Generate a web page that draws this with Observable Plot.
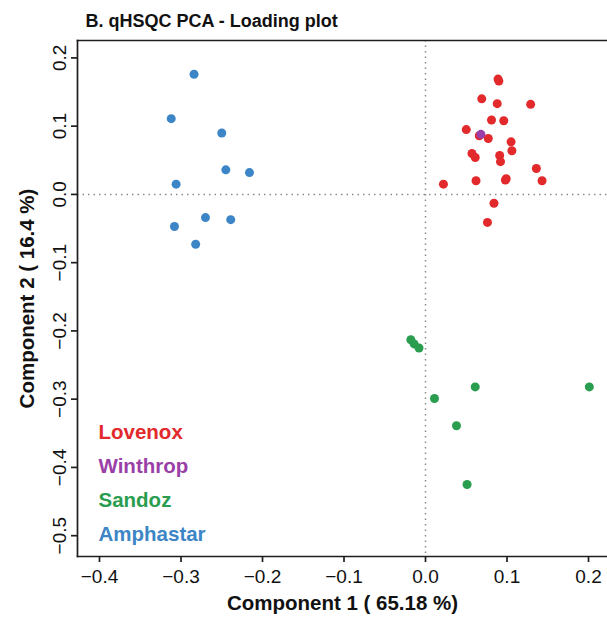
<!DOCTYPE html>
<html>
<head>
<meta charset="utf-8">
<script src="https://cdn.jsdelivr.net/npm/d3@7"></script>
<script src="https://cdn.jsdelivr.net/npm/@observablehq/plot@0.6"></script>
<style>
  html, body { margin: 0; padding: 0; background: #fff; }
  #chart svg { display: block; }
</style>
</head>
<body>
<div id="chart"></div>
<script>
// ---- data ----
const groups = ["Lovenox", "Winthrop", "Sandoz", "Amphastar"];
const groupColors = ["#E2292C", "#9B3FA8", "#2A9D4F", "#3C85C6"];

const lovenoxX = [0.089, 0.090, 0.069, 0.088, 0.129, 0.081, 0.096, 0.050, 0.066, 0.077, 0.105, 0.106, 0.057, 0.061, 0.091, 0.092, 0.136, 0.099, 0.098, 0.143, 0.062, 0.022, 0.084, 0.076];
const lovenoxY = [0.169, 0.166, 0.140, 0.133, 0.132, 0.109, 0.108, 0.095, 0.086, 0.082, 0.077, 0.064, 0.060, 0.054, 0.057, 0.048, 0.038, 0.023, 0.021, 0.020, 0.020, 0.015, -0.013, -0.041];

const winthropX = [0.068];
const winthropY = [0.088];

const sandozX = [-0.018, -0.014, -0.008, 0.061, 0.201, 0.011, 0.038, 0.051];
const sandozY = [-0.213, -0.219, -0.225, -0.282, -0.282, -0.299, -0.339, -0.425];

const amphastarX = [-0.284, -0.312, -0.250, -0.245, -0.216, -0.306, -0.270, -0.239, -0.308, -0.282];
const amphastarY = [0.176, 0.111, 0.090, 0.036, 0.032, 0.015, -0.034, -0.037, -0.047, -0.073];

const xTicks = [-0.4, -0.3, -0.2, -0.1, 0.0, 0.1, 0.2];
const yTicks = [-0.5, -0.4, -0.3, -0.2, -0.1, 0.0, 0.1, 0.2];

const titleText = "B. qHSQC PCA - Loading plot";
const xLabel = "Component 1 ( 65.18 %)";
const yLabel = "Component 2 ( 16.4 %)";

// ---- table for the library ----
const rows = [];
function addGroup(name, xs, ys) {
  xs.forEach((x, i) => rows.push({ group: name, x, y: ys[i] }));
}
addGroup("Amphastar", amphastarX, amphastarY);
addGroup("Sandoz", sandozX, sandozY);
addGroup("Lovenox", lovenoxX, lovenoxY);
addGroup("Winthrop", winthropX, winthropY);

const fmt = d3.format(".1f");
const font = "'Liberation Sans', Arial, Helvetica, sans-serif";
const frameStroke = "#1e1e1e";
const legendBaselines = [-118, -84, -50, -16];

const marks = [
  Plot.ruleX([0], { stroke: "#8c8c8c", strokeWidth: 1.5, strokeDasharray: "1.5,4" }),
  Plot.ruleY([0], { stroke: "#8c8c8c", strokeWidth: 1.5, strokeDasharray: "1.5,4" }),
  Plot.dot(rows, { x: "x", y: "y", fill: "group", r: 4.5 }),
  Plot.frame({ anchor: "top", stroke: frameStroke, strokeWidth: 1.7 }),
  Plot.frame({ anchor: "left", stroke: frameStroke, strokeWidth: 1.7 }),
  Plot.frame({ anchor: "bottom", stroke: frameStroke, strokeWidth: 1.7 }),
  Plot.axisX({ ticks: xTicks, tickSize: 6, tickPadding: 7, tickFormat: fmt, fontSize: 19, label: null, stroke: frameStroke, strokeWidth: 1.7, fill: "#111" }),
  Plot.axisY({ ticks: yTicks, tickSize: 6, tickFormat: () => "", label: null, stroke: frameStroke, strokeWidth: 1.7 }),
  Plot.text(yTicks, { y: d => d, text: d => fmt(d), frameAnchor: "left", dx: -18, rotate: -90, textAnchor: "middle", lineAnchor: "middle", fontSize: 19, fill: "#111" }),
  Plot.text([titleText], { text: d => d, frameAnchor: "top-left", dx: 8, dy: -14, textAnchor: "start", lineAnchor: "bottom", fontSize: 18, fontWeight: "bold", fill: "#111" }),
  Plot.text([xLabel], { text: d => d, frameAnchor: "bottom", dy: 53, textAnchor: "middle", lineAnchor: "bottom", fontSize: 20.5, fontWeight: "bold", fill: "#111" }),
  Plot.text([yLabel], { text: d => d, frameAnchor: "left", dx: -44, rotate: -90, textAnchor: "middle", lineAnchor: "bottom", fontSize: 20.5, fontWeight: "bold", fill: "#111" })
];
groups.forEach((g, i) => {
  marks.push(Plot.text([g], { text: d => d, frameAnchor: "bottom-left", dx: 21, dy: legendBaselines[i], textAnchor: "start", lineAnchor: "bottom", fontSize: 20.5, fontWeight: "bold", fill: groupColors[i] }));
});

const chart = Plot.plot({
  width: 607,
  height: 618,
  marginLeft: 77,
  marginTop: 40,
  marginRight: 0,
  marginBottom: 62,
  style: { fontFamily: font, background: "#fff", overflow: "visible" },
  x: { domain: [-0.427, 0.2233] },
  y: { domain: [-0.5305, 0.2255] },
  color: { domain: groups, range: groupColors },
  marks
});
document.getElementById("chart").append(chart);
</script>
</body>
</html>
